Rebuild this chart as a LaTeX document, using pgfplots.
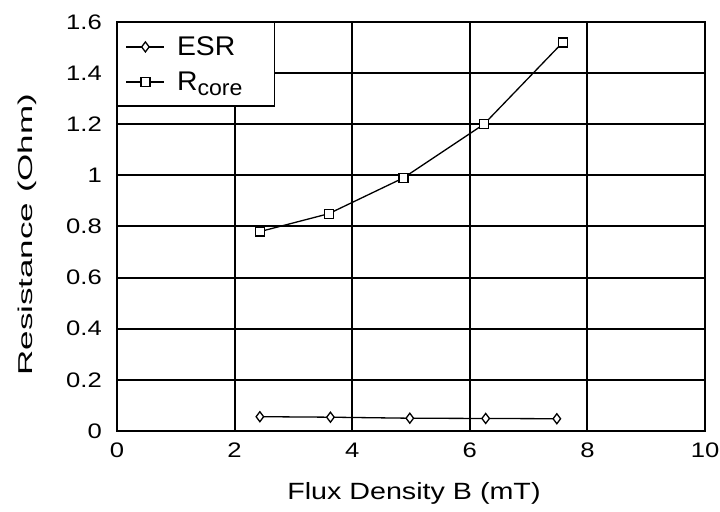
\documentclass[border=0pt]{standalone}
\usepackage{fontspec}
\setmainfont[FakeStretch=1.22]{Liberation Sans}
\newfontfamily\ylabfont[FakeStretch=1.75]{Liberation Sans}
\newfontfamily\legfont[FakeStretch=1.05]{Liberation Sans}
\usepackage{pgfplots}
\pgfplotsset{compat=1.18}
\begin{document}
\begin{tikzpicture}
\begin{axis}[
  at={(0,0)}, anchor=south west,
  scale only axis, width=588bp, height=409bp,
  xmin=0, xmax=10, ymin=0, ymax=1.6,
  xtick={0,2,4,6,8,10},
  ytick={0,0.2,0.4,0.6,0.8,1,1.2,1.4,1.6},
  yticklabels={0,0.2,0.4,0.6,0.8,1,1.2,1.4,1.6},
  xticklabels={0,2,4,6,8,10},
  major tick length=0pt,
  grid=major,
  major grid style={black, line width=2bp},
  axis line style={black, line width=2bp},
  /pgf/number format/assume math mode=true,
  tick label style={font=\fontsize{21bp}{25bp}\selectfont, inner sep=0pt},
  xticklabel style={yshift=-12bp},
  yticklabel style={xshift=-15bp},
  xlabel={Flux Density B (mT)},
  ylabel={Resistance (Ohm)},
  every axis x label/.style={at={(axis description cs:0.505,0)}, anchor=north, yshift=-51bp, inner sep=0pt, font=\fontsize{23.5bp}{27bp}\selectfont},
  every axis y label/.style={at={(axis description cs:-0.153,0.48)}, rotate=90, anchor=center, inner sep=0pt, font=\ylabfont\fontsize{20bp}{24bp}\selectfont},
  legend style={at={(axis description cs:0,1)}, anchor=north west, draw=black, line width=1.5bp, fill=white, inner xsep=8bp, inner ysep=12bp, row sep=11bp, column sep=10bp},
  legend cell align=left,
  legend image code/.code={\draw[mark repeat=2,mark phase=2,#1] plot coordinates {(0bp,0bp)(19bp,0bp)(38bp,0bp)};},
]
\addplot[black, line width=1.3bp, mark=diamond*, mark size=5bp, mark options={fill=white, solid, line width=1.3bp}]
  coordinates {(2.43,0.056) (3.63,0.054) (4.98,0.050) (6.27,0.049) (7.48,0.048)};
\addlegendentry{\legfont\fontsize{27bp}{30bp}\selectfont ESR}
\addplot[black, line width=1.3bp, mark=square*, mark size=4.5bp, mark options={fill=white, solid, line width=1.3bp}]
  coordinates {(2.43,0.78) (3.6,0.85) (4.87,0.99) (6.24,1.2) (7.58,1.52)};
\addlegendentry{\legfont\fontsize{27bp}{30bp}\selectfont R\raisebox{-0.35ex}{\fontsize{22bp}{24bp}\selectfont core}\rule{22bp}{0pt}}
\end{axis}
\pgfresetboundingbox
\path[use as bounding box] (-117bp,-81bp) rectangle (603bp,431bp);
\end{tikzpicture}
\end{document}
